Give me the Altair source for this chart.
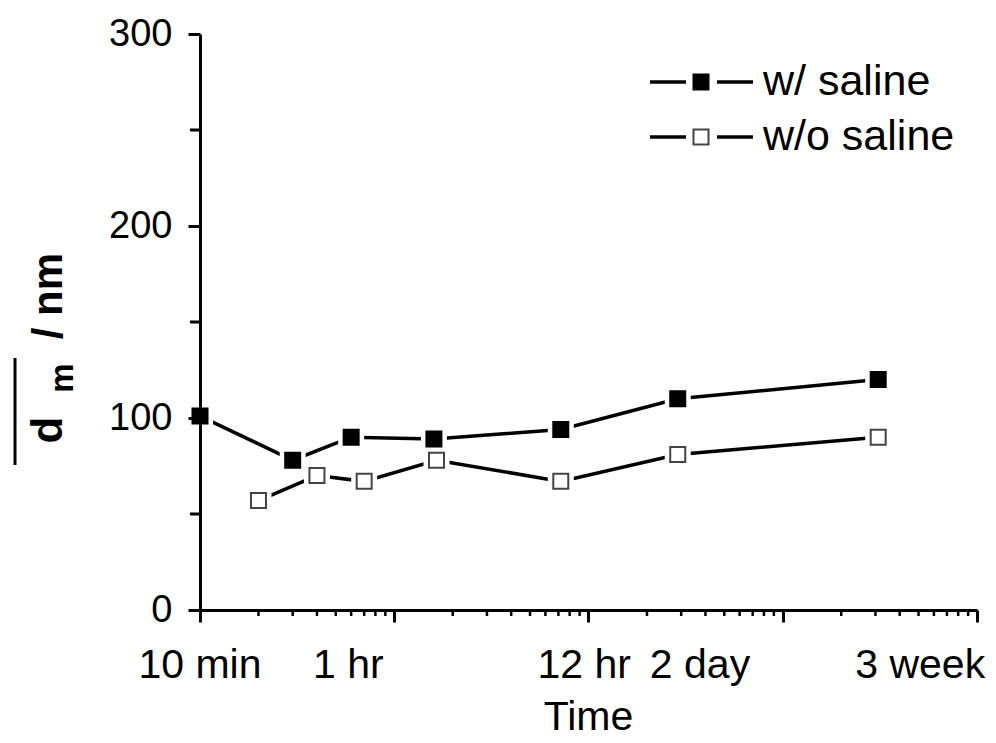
import altair as alt
import pandas as pd

FONT = "Liberation Sans"

# ---- data ----
series_names = ["w/ saline", "w/o saline"]
time_with = [10, 30, 60, 160, 720, 2880, 31000]          # minutes
d_with = [101, 78, 90, 89, 94, 110, 120]
time_without = [20, 40, 70, 165, 720, 2880, 31000]       # minutes
d_without = [57, 70, 67, 78, 67, 81, 90]

x_major = [10, 100, 1000, 10000, 100000]
x_minor = [20, 30, 40, 50, 60, 70, 80, 90,
           200, 300, 400, 500, 600, 700, 800, 900,
           2000, 3000, 4000, 5000, 6000, 7000, 8000, 9000,
           20000, 30000, 40000, 50000, 60000, 70000, 80000, 90000]
y_major = [0, 100, 200, 300]
y_minor = [50, 150, 250]

x_label_text = ["10 min", "1 hr", "12 hr", "2 day", "3 week"]
x_label_at = [10, 58, 950, 3750, 51000]   # where the labels sit (minutes)

W, H = 777, 576
OX, OY = 200, 34   # page position of plot origin (for annotation offsets)

df = pd.DataFrame({
    "time": time_with + time_without,
    "d": d_with + d_without,
    "series": [series_names[0]] * len(time_with) + [series_names[1]] * len(time_without),
})

xs = alt.Scale(type="log", domain=[10, 100000], nice=False)
ys = alt.Scale(domain=[0, 300], nice=False, zero=True)

x = alt.X("time:Q", scale=xs,
          axis=alt.Axis(values=x_major, labels=False, title=None, tickSize=12,
                        grid=False, zindex=1))
y = alt.Y("d:Q", scale=ys,
          axis=alt.Axis(values=y_major, title=None, tickSize=12, labelPadding=16,
                        labelFontSize=38, grid=False, zindex=1))

base = alt.Chart(df)
lines = base.mark_line(color="black", strokeWidth=3.5).encode(x=x, y=y, detail="series:N")
gaps = base.mark_square(size=676, color="white", opacity=1).encode(x=x, y=y)
markers = base.mark_square(size=225, strokeWidth=2, opacity=1).encode(
    x=x, y=y,
    fill=alt.Fill("series:N", scale=alt.Scale(domain=series_names, range=["black", "white"]), legend=None),
    stroke=alt.Stroke("series:N", scale=alt.Scale(domain=series_names, range=["black", "#444444"]), legend=None),
)

xminor = alt.Chart(pd.DataFrame({"time": x_minor})).mark_rule(
    color="black", strokeWidth=2.5).encode(x=x, y=alt.value(H), y2=alt.value(H + 6))
yminor = alt.Chart(pd.DataFrame({"d": y_minor})).mark_rule(
    color="black", strokeWidth=3).encode(y=y, x=alt.value(-10), x2=alt.value(0))

xlabels = alt.Chart(pd.DataFrame({"time": x_label_at, "label": x_label_text})).mark_text(
    font=FONT, fontSize=41, color="black", baseline="alphabetic", align="center"
).encode(x=x, y=alt.value(H + 68), text="label:N")

dummy = pd.DataFrame({"k": [0]})
xtitle = alt.Chart(dummy).mark_text(
    text="Time", font=FONT, fontSize=41, color="black", baseline="alphabetic", align="center"
).encode(x=alt.value(W / 2), y=alt.value(730 - OY))

# y title: overline d, subscript m, " / nm"
t_d = alt.Chart(dummy).mark_text(
    text="d", angle=270, font=FONT, fontSize=44, fontWeight="bold", color="black",
    align="center", baseline="alphabetic").encode(x=alt.value(62 - OX), y=alt.value(430 - OY))
t_m = alt.Chart(dummy).mark_text(
    text="m", angle=270, font=FONT, fontSize=33, fontWeight="bold", color="black",
    align="center", baseline="alphabetic").encode(x=alt.value(73 - OX), y=alt.value(378 - OY))
t_nm = alt.Chart(dummy).mark_text(
    text="/ nm", angle=270, font=FONT, fontSize=42, fontWeight="bold", color="black",
    align="right", baseline="alphabetic").encode(x=alt.value(62 - OX), y=alt.value(253 - OY))
t_bar = alt.Chart(dummy).mark_rule(color="black", strokeWidth=3).encode(
    x=alt.value(15 - OX), y=alt.value(358 - OY), y2=alt.value(465 - OY))

# legend (drawn by hand, Origin style)
legend_layers = []
row_y = [82 - OY, 137 - OY]
fills = ["black", "white"]
strokes = ["black", "#444444"]
for i, name in enumerate(series_names):
    ry = row_y[i]
    legend_layers.append(alt.Chart(dummy).mark_rule(color="black", strokeWidth=3.5).encode(
        x=alt.value(450), x2=alt.value(486), y=alt.value(ry)))
    legend_layers.append(alt.Chart(dummy).mark_rule(color="black", strokeWidth=3.5).encode(
        x=alt.value(517), x2=alt.value(553), y=alt.value(ry)))
    legend_layers.append(alt.Chart(dummy).mark_square(
        size=225, fill=fills[i], stroke=strokes[i], strokeWidth=2, opacity=1
    ).encode(x=alt.value(501), y=alt.value(ry)))
    legend_layers.append(alt.Chart(dummy).mark_text(
        text=name, font=FONT, fontSize=43, color="black", align="left", baseline="middle"
    ).encode(x=alt.value(563), y=alt.value(ry)))

chart = alt.layer(
    lines, gaps, markers, xminor, yminor, xlabels, xtitle, t_d, t_m, t_nm, t_bar, *legend_layers
).properties(
    width=W, height=H,
    padding={"left": 192, "top": 26, "right": 11, "bottom": 133},
    autosize=alt.AutoSizeParams(type="none"),
    background="white",
).configure_axis(
    domainColor="black", domainWidth=3, tickColor="black", tickWidth=3,
    labelColor="black", labelFont=FONT,
).configure_view(stroke=None)

chart.save("out.html", embed_options={"renderer": "svg", "actions": False})
